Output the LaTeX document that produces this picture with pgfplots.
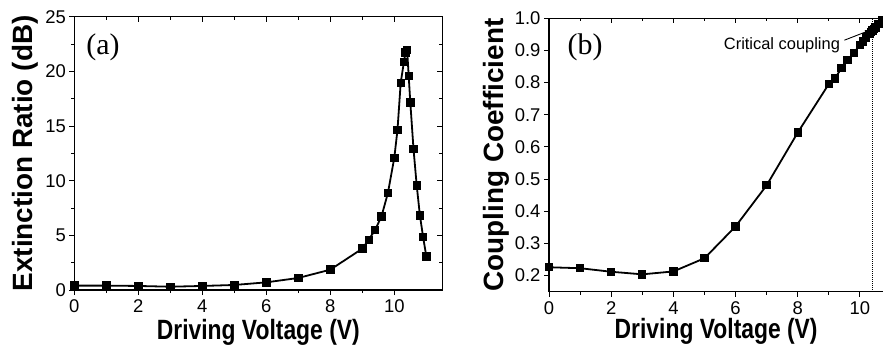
\documentclass[border=0pt]{standalone}
\usepackage{pgfplots}
\pgfplotsset{compat=1.18}
\usepackage{fontspec}
\setmainfont{Liberation Sans}
\newfontfamily\timesf{Liberation Serif}
\usepackage{graphicx}
\newcommand{\sx}[1]{\scalebox{0.82}[1]{#1}}
\pgfplotsset{
  common/.style={
    scale only axis,
    axis line style={line width=1.3bp},
    major tick length=5bp, minor tick length=3bp,
    every tick/.style={line width=1bp, black},
    /pgf/number format/assume math mode=true,
    tick label style={font=\fontsize{18.5}{18.5}\selectfont},
    xticklabel style={yshift=-4bp, inner sep=0.5bp},
    label style={font=\fontsize{28}{28}\selectfont\bfseries, inner sep=0.5bp},
  },
  over/.style={
    scale only axis,
    axis line style={line width=1.3bp},
    major tick length=5bp, minor tick length=3bp,
    every tick/.style={line width=1bp, black},
    tick align=inside,
    xticklabels={}, yticklabels={},
  },
  dat/.style={black, line width=1.8bp, mark=square*, mark size=3.3bp, mark options={solid}},
}
\pgfplotstableread{
x y
0 0.40
1 0.40
2 0.37
3 0.30
4 0.37
5 0.46
6 0.70
7 1.10
8 1.86
9.0 3.78
9.2 4.60
9.4 5.49
9.6 6.74
9.8 8.87
10.0 12.10
10.1 14.66
10.2 18.96
10.3 20.85
10.35 21.74
10.4 21.98
10.45 19.57
10.5 17.16
10.6 12.90
10.7 9.57
10.8 6.83
10.9 4.85
11.0 3.08
}\dataA
\pgfplotstableread{
x y
0 0.226
1 0.223
2 0.212
3 0.204
4 0.213
5 0.254
6 0.353
7 0.481
8 0.645
9.0 0.796
9.2 0.813
9.4 0.845
9.6 0.870
9.8 0.893
10.0 0.917
10.1 0.928
10.2 0.940
10.3 0.951
10.35 0.957
10.4 0.962
10.45 0.967
10.5 0.972
10.6 0.983
10.7 0.994
}\dataB
\begin{document}
\begin{tikzpicture}
\path[use as bounding box] (0,0) rectangle (883bp,348bp);
% ---------- panel a ----------
\begin{axis}[common,
  at={(74.3bp,58bp)}, anchor=south west,
  width=368bp, height=273.3bp,
  xmin=0, xmax=11.5, ymin=0, ymax=25,
  xtick={0,2,...,10},
  minor x tick num=1,
  ytick={0,5,...,25}, minor y tick num=1,
  xtick pos=lower, ytick pos=left, tick align=outside,
  xlabel={\sx{Driving Voltage (V)}},
  ylabel={Extinction Ratio (dB)},
  xlabel style={at={(axis description cs:0.5,-0.18)}, anchor=base},
  ylabel style={at={(axis description cs:-0.133,0.5)}, anchor=center},
]
\addplot[dat] table {\dataA};
\node[font=\timesf\fontsize{30}{30}\selectfont] at (axis description cs:0.078,0.889) {(a)};
\end{axis}
\begin{axis}[over,
  at={(74.3bp,58bp)}, anchor=south west,
  width=368bp, height=273.3bp,
  xmin=0, xmax=11.5, ymin=0, ymax=25,
  xtick={0,2,...,10}, minor x tick num=1,
  ytick={0,5,...,25}, minor y tick num=1,
  xtick pos=upper, ytick pos=right,
]
\end{axis}
% ---------- panel b ----------
\begin{axis}[common,
  at={(549bp,56.3bp)}, anchor=south west,
  width=334.3bp, height=273.4bp,
  xmin=0, xmax=10.75, ymin=0.15, ymax=1.0,
  axis x line*=box, axis y line*=left,
  xtick={0,2,...,10},
  minor x tick num=1,
  ytick={0.2,0.3,...,1.0},
  yticklabel style={/pgf/number format/.cd, fixed, fixed zerofill, precision=1},
  xtick pos=lower, tick align=outside,
  xlabel={\sx{Driving Voltage (V)}},
  ylabel={Coupling Coefficient},
  xlabel style={at={(axis description cs:0.5,-0.173)}, anchor=base},
  ylabel style={at={(axis description cs:-0.1585,0.5)}, anchor=center},
  clip=true,
]
\addplot[black, densely dotted, line width=1bp] coordinates {(10.4,0.15) (10.4,1.0)};
\addplot[dat] table {\dataB};
\node[font=\timesf\fontsize{30}{30}\selectfont] at (axis description cs:0.108,0.895) {(b)};
\node[font=\fontsize{16.5}{16.5}\selectfont] at (axis cs:7.49,0.917) {Critical coupling};
\draw[-stealth, line width=0.9bp] (axis cs:9.5,0.932) -- (axis cs:10.3,0.962);
\end{axis}
\begin{axis}[over,
  at={(549bp,56.3bp)}, anchor=south west,
  width=334.3bp, height=273.4bp,
  xmin=0, xmax=10.75, ymin=0.15, ymax=1.0,
  axis x line*=top, axis y line=none,
  xtick={0,2,...,10}, minor x tick num=1,
]
\end{axis}
\end{tikzpicture}
\end{document}
